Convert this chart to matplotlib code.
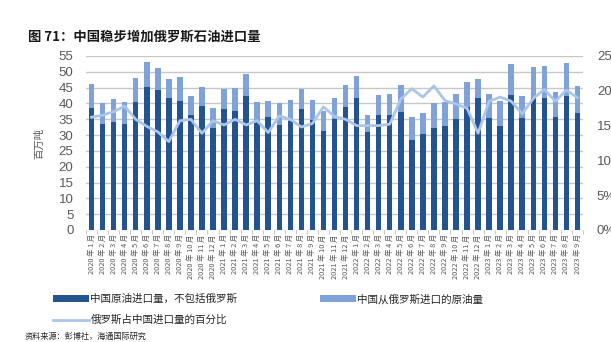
import matplotlib
matplotlib.use("Agg")
import matplotlib.pyplot as plt
from matplotlib.lines import Line2D
from matplotlib.patches import Patch
import numpy as np

plt.rcParams['font.family'] = ['Noto Sans CJK SC', 'DejaVu Sans']

# Monthly crude imports, Jan 2020 - Sep 2023 (million tonnes)
months = [f"{y} 年 {m} 月" for y in (2020, 2021, 2022, 2023) for m in range(1, 13)][:45]

imports_ex_russia = [
    38.7, 33.4, 34.2, 33.4, 40.5, 45.3, 44.2, 41.8, 40.8, 36.2, 39.3, 32.3,
    38.2, 37.6, 42.4, 34.2, 35.7, 33.2, 34.5, 38.2, 34.9, 31.3, 35.0, 38.9,
    41.6, 31.0, 36.4, 36.4, 37.4, 28.6, 30.3, 32.2, 33.0, 35.2, 38.9, 41.6,
    35.3, 32.9, 42.7, 35.3, 41.6, 41.6, 35.8, 42.4, 36.9,
]
imports_from_russia = [
    7.3, 6.6, 7.1, 7.1, 7.4, 7.9, 6.9, 5.8, 7.6, 6.2, 5.9, 6.3,
    6.3, 7.4, 7.0, 6.2, 5.1, 6.8, 6.6, 6.3, 6.2, 6.3, 6.6, 6.9,
    7.1, 5.4, 6.3, 6.7, 8.4, 7.1, 6.8, 8.1, 7.5, 7.9, 7.9, 6.2,
    7.8, 7.9, 9.7, 7.1, 9.9, 10.2, 7.8, 10.3, 8.6,
]
russia_share_pct = [
    16.2, 16.5, 17.0, 17.8, 15.9, 14.9, 14.1, 12.7, 15.7, 15.9, 13.9, 15.7,
    15.1, 15.9, 15.1, 15.7, 14.0, 16.4, 15.9, 14.8, 15.3, 17.7, 16.3, 15.9,
    15.0, 15.0, 15.0, 15.2, 18.8, 20.3, 19.1, 20.7, 18.6, 18.1, 17.5, 13.9,
    18.5, 19.1, 18.5, 16.7, 18.9, 20.2, 18.5, 20.1, 19.0,
]

label_ex = "中国原油进口量，不包括俄罗斯"
label_ru = "中国从俄罗斯进口的原油量"
label_share = "俄罗斯占中国进口量的百分比"

c_dark = "#24548F"
c_light = "#7FA2D9"
c_line = "#ABC5EB"
c_grid = "#C8C8C8"
c_text = "#595959"

W, H = 611, 342
fig = plt.figure(figsize=(W / 100, H / 100), dpi=100)
ax = fig.add_axes([86 / W, (H - 230) / H, (583 - 86) / W, (230 - 56) / H])

x = np.arange(len(months))
ax.bar(x, imports_ex_russia, width=0.5, color=c_dark, zorder=2)
ax.bar(x, imports_from_russia, width=0.5, bottom=imports_ex_russia, color=c_light, zorder=2)

ax.set_xlim(-0.5, len(months) - 0.5)
ax.set_ylim(0, 55)
ax.set_yticks(np.arange(0, 56, 5))
ax.grid(axis='y', color=c_grid, linewidth=1.0, zorder=0)
ax.set_axisbelow(True)
for s in ax.spines.values():
    s.set_visible(False)

ax.set_xticks(x)
ax.set_xticklabels(months, rotation=90, fontsize=5.3, color=c_text)
ax.set_xticks(np.arange(-0.5, len(months), 1), minor=True)
ax.tick_params(axis='x', which='major', length=0, pad=3)
ax.tick_params(axis='x', which='minor', length=3, color=c_grid, width=0.8)
ax.tick_params(axis='y', length=0, pad=9, labelcolor=c_text)
for t in ax.get_yticklabels():
    t.set_fontfamily('Liberation Sans')
    t.set_fontsize(9.5)
ax.set_ylabel("百万吨", fontsize=7.5, color=c_text, labelpad=12)
ax.yaxis.set_label_coords(-0.085, 0.5)

ax2 = ax.twinx()
ax2.plot(x, russia_share_pct, color=c_line, linewidth=2.0, zorder=3)
ax2.set_ylim(0, 25)
ax2.set_yticks(np.arange(0, 26, 5))
ax2.set_yticklabels([f"{v}%" for v in range(0, 26, 5)])
ax2.tick_params(axis='y', length=0, pad=10, labelcolor=c_text)
for t in ax2.get_yticklabels():
    t.set_fontfamily('Liberation Sans')
    t.set_fontsize(9.5)
for s in ax2.spines.values():
    s.set_visible(False)

fig.text(28 / W, 1 - 36 / H, "图 71：中国稳步增加俄罗斯石油进口量", fontsize=9.6,
         fontweight='bold', va='center', ha='left', color='#1a1a1a')

h_ex = Patch(facecolor=c_dark, edgecolor='none')
h_ru = Patch(facecolor=c_light, edgecolor='none')
h_sh = Line2D([], [], color=c_line, linewidth=2.0)

leg_kw = dict(frameon=False, fontsize=7.6, handlelength=3.4, handleheight=0.6,
              handletextpad=0.15, borderpad=0, borderaxespad=0, labelspacing=1.0,
              labelcolor='#262626')
leg1 = fig.legend([h_ex, h_sh], [label_ex, label_share], loc='upper left',
                  bbox_to_anchor=(53 / W, 1 - 294 / H), **leg_kw)
leg2 = fig.legend([h_ru], [label_ru], loc='upper left',
                  bbox_to_anchor=(320 / W, 1 - 294 / H), **leg_kw)

fig.text(25 / W, 1 - 336 / H, "资料来源：彭博社，海通国际研究", fontsize=5.9,
         va='center', ha='left', color='#262626')

fig.savefig("out.png", dpi=100)
